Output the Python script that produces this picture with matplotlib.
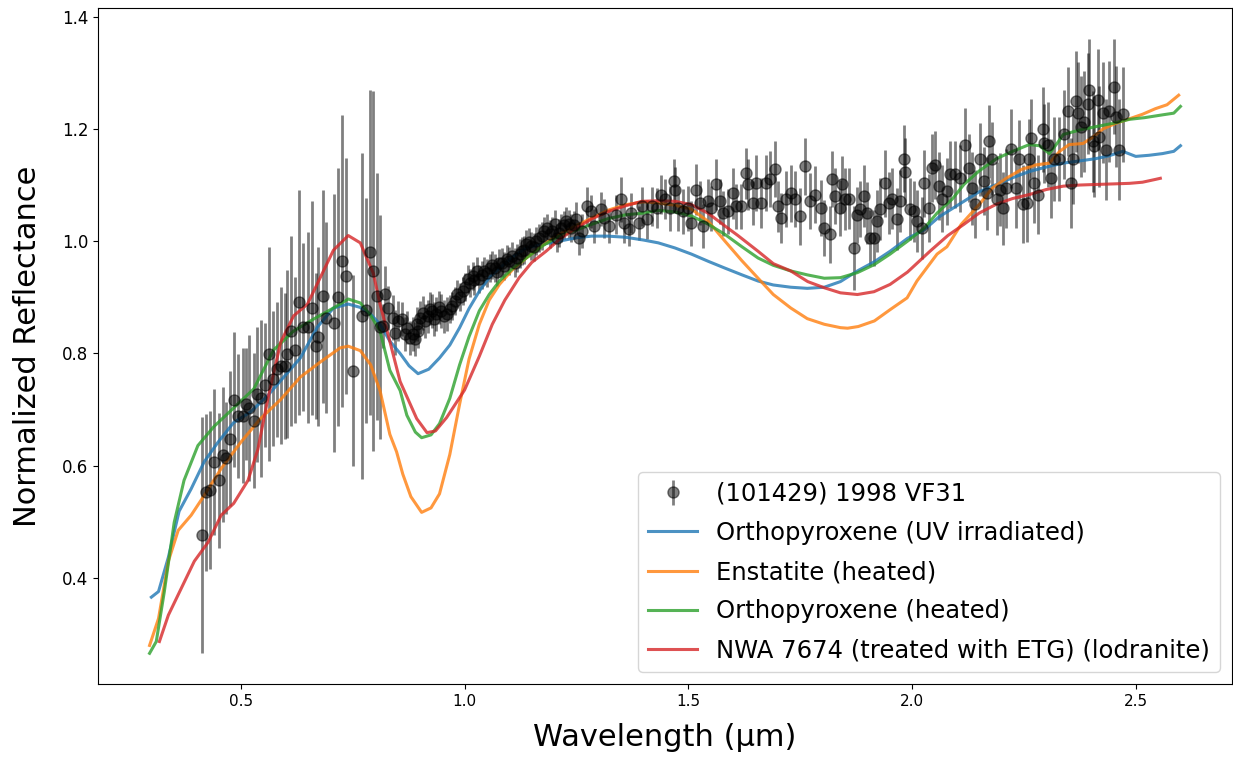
import matplotlib
matplotlib.use("Agg")
import matplotlib.pyplot as plt
import numpy as np

# asteroid spectrum (101429) 1998 VF31
ast_wave = [
    0.413, 0.422, 0.431, 0.440, 0.451, 0.460, 0.467, 0.476, 0.484, 0.493,
    0.504, 0.511, 0.518, 0.529, 0.536, 0.544, 0.553, 0.562, 0.571, 0.580,
    0.589, 0.598, 0.604, 0.613, 0.622, 0.631, 0.640, 0.649, 0.658, 0.667,
    0.673, 0.684, 0.691, 0.709, 0.718, 0.727, 0.736, 0.751, 0.771, 0.780,
    0.789, 0.796, 0.804, 0.811,
    0.818, 0.822, 0.829, 0.840, 0.844, 0.852, 0.860, 0.867, 0.872, 0.878,
    0.885, 0.889, 0.893, 0.897, 0.900, 0.907, 0.912, 0.918, 0.922, 0.927,
    0.932, 0.937, 0.943, 0.948, 0.954, 0.960, 0.967, 0.973, 0.978, 0.984,
    0.990, 0.996, 1.001, 1.007, 1.012, 1.018, 1.022, 1.027, 1.033, 1.038,
    1.044, 1.050, 1.056, 1.061, 1.067, 1.072, 1.078, 1.084, 1.089, 1.095,
    1.100, 1.107, 1.112, 1.118, 1.124, 1.129, 1.133, 1.138, 1.144, 1.149,
    1.155, 1.160, 1.167, 1.172, 1.178, 1.184, 1.190, 1.196, 1.201, 1.207,
    1.211, 1.216, 1.222, 1.227, 1.233, 1.238, 1.244, 1.249, 1.256,
    1.262, 1.273, 1.282, 1.289, 1.304, 1.311, 1.322, 1.338, 1.349, 1.356,
    1.367, 1.373, 1.389, 1.396, 1.407, 1.418, 1.429, 1.438, 1.449, 1.460,
    1.467, 1.471, 1.478, 1.489, 1.500, 1.507, 1.518, 1.527, 1.533, 1.544,
    1.551, 1.562, 1.571, 1.578, 1.589, 1.600, 1.607, 1.618, 1.629, 1.633,
    1.644, 1.651, 1.662, 1.673, 1.682, 1.693, 1.700, 1.707, 1.718, 1.729,
    1.738, 1.749,
    1.760, 1.773, 1.784, 1.796, 1.804, 1.816, 1.822, 1.829, 1.838, 1.844,
    1.851, 1.860, 1.871, 1.878, 1.884, 1.893, 1.900, 1.907, 1.916, 1.922,
    1.929, 1.940, 1.949, 1.956, 1.967, 1.973, 1.982, 1.984, 1.996,
    2.004, 2.011, 2.022, 2.027, 2.038, 2.044, 2.051, 2.060, 2.067, 2.078,
    2.084, 2.096, 2.107, 2.118, 2.127, 2.133, 2.140, 2.151, 2.160, 2.167,
    2.173, 2.178, 2.189, 2.196, 2.204, 2.211, 2.222, 2.233, 2.240, 2.249,
    2.256, 2.262, 2.267, 2.273, 2.282, 2.293, 2.296, 2.304, 2.311, 2.318,
    2.329, 2.340, 2.349, 2.356, 2.360, 2.367, 2.371, 2.378, 2.384, 2.393,
    2.396, 2.404, 2.407, 2.416, 2.418, 2.427, 2.433, 2.440, 2.451, 2.456,
    2.462, 2.471,
]
ast_refl = [
    0.476, 0.553, 0.557, 0.607, 0.574, 0.620, 0.614, 0.648, 0.718, 0.689,
    0.689, 0.710, 0.703, 0.680, 0.727, 0.720, 0.744, 0.799, 0.755, 0.772,
    0.778, 0.778, 0.799, 0.840, 0.806, 0.891, 0.847, 0.847, 0.881, 0.813,
    0.830, 0.902, 0.864, 0.854, 0.900, 0.964, 0.938, 0.769, 0.867, 0.877,
    0.980, 0.947, 0.902, 0.847,
    0.849, 0.906, 0.881, 0.864, 0.837, 0.858, 0.861, 0.835, 0.846, 0.828,
    0.835, 0.826, 0.852, 0.840, 0.864, 0.872, 0.858, 0.866, 0.880, 0.876,
    0.862, 0.870, 0.882, 0.876, 0.866, 0.870, 0.879, 0.884, 0.893, 0.906,
    0.900, 0.911, 0.918, 0.932, 0.925, 0.938, 0.930, 0.947, 0.932, 0.940,
    0.947, 0.944, 0.952, 0.958, 0.952, 0.945, 0.961, 0.962, 0.956, 0.968,
    0.964, 0.973, 0.962, 0.970, 0.978, 0.982, 0.985, 0.995, 0.998, 0.991,
    0.990, 1.000, 1.005, 1.010, 1.018, 1.023, 1.012, 1.018, 1.030, 1.005,
    1.015, 1.023, 1.028, 1.036, 1.030, 1.023, 1.028, 1.039, 1.005,
    1.018, 1.062, 1.053, 1.027, 1.057, 1.041, 1.027, 1.047, 1.075, 1.032,
    1.021, 1.050, 1.032, 1.062, 1.039, 1.062, 1.059, 1.083, 1.075, 1.059,
    1.107, 1.092, 1.059, 1.053, 1.059, 1.032, 1.092, 1.068, 1.027, 1.071,
    1.059, 1.101, 1.071, 1.050, 1.053, 1.085, 1.062, 1.062, 1.121, 1.101,
    1.068, 1.103, 1.068, 1.103, 1.110, 1.128, 1.062, 1.041, 1.075, 1.085,
    1.075, 1.044,
    1.133, 1.071, 1.083, 1.059, 1.023, 1.012, 1.110, 1.080, 1.059, 1.101,
    1.075, 1.076, 0.988, 1.047, 1.057, 1.080, 1.050, 1.005, 1.005, 1.036,
    1.057, 1.103, 1.068, 1.076, 1.039, 1.071, 1.147, 1.124, 1.057,
    1.053, 1.036, 1.023, 1.103, 1.059, 1.130, 1.136, 1.098, 1.076, 1.089,
    1.119, 1.119, 1.112, 1.172, 1.130, 1.094, 1.066, 1.146, 1.107, 1.085,
    1.178, 1.147, 1.076, 1.092, 1.059, 1.094, 1.165, 1.094, 1.146, 1.066,
    1.068, 1.147, 1.183, 1.103, 1.083, 1.199, 1.174, 1.172, 1.112, 1.147,
    1.146, 1.190, 1.231, 1.103, 1.147, 1.249, 1.229, 1.204, 1.213, 1.245,
    1.270, 1.178, 1.169, 1.252, 1.186, 1.229, 1.163, 1.231, 1.275, 1.222,
    1.163, 1.226,
]
ast_err = [
    0.21, 0.14, 0.14, 0.13, 0.12, 0.12, 0.10, 0.12, 0.12, 0.11,
    0.12, 0.10, 0.13, 0.12, 0.12, 0.14, 0.11, 0.19, 0.12, 0.12,
    0.14, 0.13, 0.15, 0.17, 0.13, 0.20, 0.15, 0.17, 0.19, 0.13,
    0.16, 0.19, 0.17, 0.23, 0.23, 0.26, 0.21, 0.17, 0.29, 0.20,
    0.29, 0.32, 0.22, 0.20,
    0.040, 0.050, 0.040, 0.040, 0.040, 0.035, 0.030, 0.030, 0.030, 0.030,
    0.030, 0.030, 0.030, 0.030, 0.030, 0.030, 0.030, 0.030, 0.030, 0.030,
    0.030, 0.030, 0.030, 0.030, 0.030, 0.030, 0.025, 0.025, 0.025, 0.025,
    0.025, 0.025, 0.025, 0.025, 0.025, 0.025, 0.025, 0.025, 0.025, 0.025,
    0.025, 0.025, 0.025, 0.025, 0.025, 0.025, 0.025, 0.025, 0.025, 0.025,
    0.025, 0.025, 0.025, 0.025, 0.025, 0.025, 0.025, 0.025, 0.025, 0.025,
    0.025, 0.025, 0.025, 0.025, 0.025, 0.025, 0.025, 0.025, 0.025, 0.025,
    0.025, 0.025, 0.025, 0.025, 0.025, 0.025, 0.025, 0.030, 0.030,
    0.030, 0.035, 0.030, 0.030, 0.030, 0.035, 0.030, 0.035, 0.040, 0.035,
    0.030, 0.035, 0.030, 0.035, 0.035, 0.035, 0.035, 0.035, 0.035, 0.040,
    0.040, 0.040, 0.040, 0.040, 0.040, 0.040, 0.045, 0.040, 0.040, 0.040,
    0.040, 0.045, 0.040, 0.040, 0.040, 0.045, 0.040, 0.040, 0.045, 0.045,
    0.040, 0.050, 0.045, 0.050, 0.050, 0.050, 0.045, 0.045, 0.050, 0.050,
    0.050, 0.050,
    0.050, 0.050, 0.050, 0.050, 0.050, 0.050, 0.050, 0.050, 0.050, 0.050,
    0.055, 0.055, 0.075, 0.050, 0.050, 0.055, 0.055, 0.050, 0.050, 0.055,
    0.055, 0.060, 0.055, 0.055, 0.055, 0.055, 0.060, 0.060, 0.055,
    0.055, 0.055, 0.055, 0.060, 0.060, 0.060, 0.060, 0.060, 0.060, 0.060,
    0.060, 0.060, 0.060, 0.065, 0.060, 0.065, 0.060, 0.065, 0.060, 0.065,
    0.065, 0.065, 0.065, 0.065, 0.065, 0.070, 0.070, 0.070, 0.070, 0.070,
    0.070, 0.070, 0.070, 0.070, 0.070, 0.075, 0.070, 0.075, 0.070, 0.075,
    0.075, 0.080, 0.080, 0.080, 0.080, 0.090, 0.090, 0.090, 0.090, 0.090,
    0.090, 0.090, 0.090, 0.090, 0.090, 0.090, 0.090, 0.090, 0.085, 0.090,
    0.090, 0.085,
]

# Orthopyroxene (UV irradiated)
opx_uv_wave = [
    0.300, 0.316, 0.338, 0.362, 0.389, 0.418, 0.449, 0.484, 0.522, 0.560,
    0.596, 0.633, 0.671, 0.707, 0.740, 0.767, 0.790, 0.811, 0.833, 0.856,
    0.876, 0.896, 0.920, 0.944, 0.967, 0.989, 1.010, 1.033, 1.055, 1.078,
    1.108, 1.138, 1.175, 1.211, 1.250, 1.284, 1.320, 1.360, 1.400, 1.433,
    1.470, 1.507, 1.545, 1.582, 1.620, 1.656, 1.690, 1.729, 1.766, 1.804,
    1.840, 1.878, 1.915, 1.951, 1.990, 2.027, 2.060, 2.116, 2.150, 2.189,
    2.225, 2.262, 2.300, 2.338, 2.375, 2.411, 2.440, 2.471, 2.500, 2.530,
    2.560, 2.585, 2.600,
]
opx_uv_refl = [
    0.366, 0.376, 0.437, 0.519, 0.559, 0.607, 0.642, 0.677, 0.696, 0.725,
    0.758, 0.792, 0.847, 0.881, 0.888, 0.882, 0.870, 0.852, 0.822, 0.800,
    0.778, 0.764, 0.772, 0.792, 0.815, 0.846, 0.880, 0.911, 0.935, 0.952,
    0.972, 0.988, 0.995, 1.000, 1.006, 1.009, 1.009, 1.007, 1.002, 0.997,
    0.988, 0.977, 0.964, 0.952, 0.940, 0.929, 0.922, 0.918, 0.916, 0.918,
    0.928, 0.947, 0.963, 0.982, 1.005, 1.020, 1.043, 1.071, 1.088, 1.101,
    1.113, 1.124, 1.132, 1.139, 1.143, 1.147, 1.152, 1.160, 1.151, 1.153,
    1.156, 1.160, 1.170,
]

# Enstatite (heated)
ens_wave = [
    0.296, 0.316, 0.338, 0.360, 0.389, 0.418, 0.456, 0.500, 0.544, 0.589,
    0.633, 0.678, 0.722, 0.740, 0.767, 0.790, 0.811, 0.833, 0.848, 0.862,
    0.880, 0.904, 0.925, 0.944, 0.967, 0.989, 1.010, 1.033, 1.055, 1.078,
    1.108, 1.138, 1.175, 1.211, 1.250, 1.284, 1.320, 1.360, 1.400, 1.433,
    1.470, 1.507, 1.545, 1.582, 1.620, 1.656, 1.690, 1.729, 1.766, 1.804,
    1.840, 1.856, 1.880, 1.916, 1.951, 1.989, 2.011, 2.056, 2.078, 2.110,
    2.151, 2.180, 2.211, 2.245, 2.278, 2.307, 2.330, 2.351, 2.382, 2.404,
    2.427, 2.456, 2.486, 2.515, 2.544, 2.570, 2.596,
]
ens_refl = [
    0.280, 0.328, 0.430, 0.485, 0.512, 0.547, 0.595, 0.642, 0.684, 0.718,
    0.758, 0.785, 0.810, 0.813, 0.805, 0.780, 0.734, 0.656, 0.625, 0.585,
    0.545, 0.517, 0.525, 0.550, 0.620, 0.710, 0.790, 0.852, 0.895, 0.923,
    0.950, 0.970, 0.993, 1.012, 1.028, 1.041, 1.055, 1.065, 1.070, 1.068,
    1.064, 1.057, 1.035, 1.000, 0.965, 0.934, 0.905, 0.881, 0.862, 0.852,
    0.846, 0.845, 0.848, 0.858, 0.878, 0.899, 0.929, 0.977, 0.990, 1.030,
    1.066, 1.095, 1.112, 1.128, 1.136, 1.139, 1.160, 1.172, 1.174, 1.185,
    1.200, 1.210, 1.218, 1.226, 1.236, 1.243, 1.260,
]

# Orthopyroxene (heated)
opx_h_wave = [
    0.296, 0.311, 0.329, 0.351, 0.373, 0.404, 0.440, 0.484, 0.529, 0.573,
    0.618, 0.662, 0.707, 0.740, 0.767, 0.790, 0.811, 0.833, 0.856, 0.871,
    0.890, 0.904, 0.925, 0.944, 0.967, 0.989, 1.010, 1.033, 1.055, 1.078,
    1.108, 1.138, 1.175, 1.211, 1.250, 1.284, 1.320, 1.360, 1.400, 1.433,
    1.470, 1.507, 1.545, 1.582, 1.620, 1.656, 1.690, 1.729, 1.766, 1.804,
    1.840, 1.878, 1.915, 1.951, 1.990, 2.027, 2.056, 2.090, 2.116, 2.150,
    2.189, 2.225, 2.262, 2.285, 2.307, 2.325, 2.338, 2.375, 2.411, 2.450,
    2.486, 2.520, 2.560, 2.585, 2.600,
]
opx_h_refl = [
    0.266, 0.287, 0.376, 0.499, 0.574, 0.636, 0.670, 0.703, 0.737, 0.806,
    0.840, 0.861, 0.881, 0.897, 0.890, 0.868, 0.840, 0.770, 0.734, 0.690,
    0.660, 0.650, 0.655, 0.675, 0.720, 0.780, 0.830, 0.876, 0.905, 0.929,
    0.952, 0.970, 0.992, 1.009, 1.020, 1.030, 1.040, 1.047, 1.050, 1.055,
    1.052, 1.045, 1.030, 1.012, 0.990, 0.970, 0.957, 0.947, 0.940, 0.934,
    0.935, 0.944, 0.958, 0.977, 1.000, 1.023, 1.050, 1.075, 1.101, 1.125,
    1.147, 1.160, 1.172, 1.170, 1.156, 1.175, 1.190, 1.198, 1.204, 1.210,
    1.217, 1.220, 1.225, 1.228, 1.240,
]

# NWA 7674 (treated with ETG) (lodranite)
nwa_wave = [
    0.318, 0.338, 0.367, 0.396, 0.427, 0.456, 0.484, 0.516, 0.538, 0.560,
    0.589, 0.618, 0.649, 0.678, 0.707, 0.740, 0.767, 0.796, 0.811, 0.827,
    0.856, 0.893, 0.916, 0.935, 0.960, 1.000, 1.033, 1.062, 1.090, 1.122,
    1.150, 1.182, 1.215, 1.249, 1.285, 1.322, 1.360, 1.396, 1.433, 1.471,
    1.507, 1.544, 1.582, 1.611, 1.656, 1.690, 1.729, 1.767, 1.804, 1.840,
    1.878, 1.915, 1.951, 1.990, 2.040, 2.080, 2.116, 2.150, 2.189, 2.225,
    2.262, 2.300, 2.338, 2.375, 2.411, 2.450, 2.486, 2.515, 2.544, 2.555,
]
nwa_refl = [
    0.287, 0.334, 0.382, 0.430, 0.464, 0.512, 0.533, 0.574, 0.629, 0.718,
    0.820, 0.867, 0.888, 0.936, 0.984, 1.010, 0.997, 0.943, 0.888, 0.840,
    0.750, 0.684, 0.659, 0.662, 0.686, 0.735, 0.795, 0.852, 0.895, 0.935,
    0.962, 0.982, 1.005, 1.023, 1.040, 1.053, 1.063, 1.071, 1.072, 1.071,
    1.065, 1.050, 1.027, 1.010, 0.982, 0.960, 0.947, 0.928, 0.917, 0.908,
    0.905, 0.910, 0.923, 0.945, 0.982, 1.010, 1.030, 1.050, 1.066, 1.076,
    1.083, 1.092, 1.098, 1.100, 1.101, 1.102, 1.103, 1.105, 1.110, 1.112,
]

fig, ax = plt.subplots(figsize=(12.33, 7.57), dpi=100)
fig.subplots_adjust(left=0.0795, right=0.9992, top=0.989, bottom=0.0964)

eb = ax.errorbar(ast_wave, ast_refl, yerr=ast_err, fmt='o', color='k',
                 alpha=0.5, ms=8, elinewidth=2, label='(101429) 1998 VF31')
l1, = ax.plot(opx_uv_wave, opx_uv_refl, color='tab:blue', lw=2.2, alpha=0.8,
              label='Orthopyroxene (UV irradiated)')
l2, = ax.plot(ens_wave, ens_refl, color='tab:orange', lw=2.2, alpha=0.8,
              label='Enstatite (heated)')
l3, = ax.plot(opx_h_wave, opx_h_refl, color='tab:green', lw=2.2, alpha=0.8,
              label='Orthopyroxene (heated)')
l4, = ax.plot(nwa_wave, nwa_refl, color='tab:red', lw=2.2, alpha=0.8,
              label='NWA 7674 (treated with ETG) (lodranite)')

ax.set_xlabel('Wavelength (µm)', fontsize=22, labelpad=10)
ax.set_ylabel('Normalized Reflectance', fontsize=22, labelpad=14)
ax.tick_params(axis='x', labelsize=11)
ax.tick_params(axis='y', labelsize=12)
ax.legend(handles=[eb, l1, l2, l3, l4], loc='lower right', fontsize=17.5,
          labelspacing=0.62)

fig.savefig('out.png', dpi=100)
